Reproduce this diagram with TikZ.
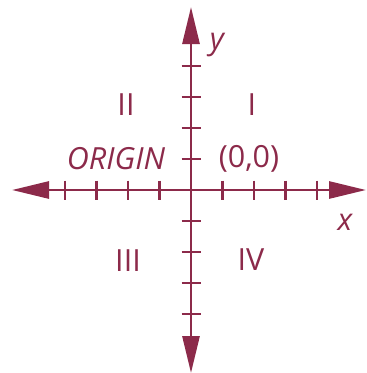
\documentclass[tikz,border=0pt]{standalone}
\usepackage{fontspec}
\setmainfont{Open Sans}
\usetikzlibrary{arrows.meta}
\definecolor{axcol}{RGB}{140,42,74}
\begin{document}
\begin{tikzpicture}[x=1pt,y=-1pt,
  axis/.style={draw=axcol,line width=2.8pt,{Triangle[length=37pt,width=17pt]}-{Triangle[length=37pt,width=17pt]}},
  tick/.style={draw=axcol,line width=2.6pt},
  lbl/.style={text=axcol,font=\fontsize{30.5}{35}\selectfont,inner sep=0pt,anchor=base},
  ilbl/.style={lbl,font=\fontsize{30.5}{35}\selectfont\itshape}]
\useasboundingbox (0,0) rectangle (367,373);
\coordinate (O) at (191,190);
\coordinate (L) at (12,190);
\coordinate (R) at (366,190);
\coordinate (T) at (191,7);
\coordinate (B) at (191,373);
\draw[axis] (L) -- (R);
\draw[axis] (B) -- (T);
\foreach \i in {1,2,3,4} {
  \draw[tick] ([shift={(-31.5*\i,-9.5)}]O) -- ([shift={(-31.5*\i,9.5)}]O);
  \draw[tick] ([shift={(31.5*\i,-9.5)}]O) -- ([shift={(31.5*\i,9.5)}]O);
  \draw[tick] ([shift={(-9.5,-31*\i)}]O) -- ([shift={(9.5,-31*\i)}]O);
  \draw[tick] ([shift={(-9.5,31*\i)}]O) -- ([shift={(9.5,31*\i)}]O);
}
\node[ilbl] (ylbl) at (217,49) {y};
\node[ilbl] (xlbl) at (345,230) {x};
\node[lbl] (q2) at (126,115) {II};
\node[lbl] (q1) at (252,115) {I};
\node[ilbl] (orig) at (116,169) {ORIGIN};
\node[lbl] (zero) at (249,167) {(0,0)};
\node[lbl] (q3) at (128,271) {III};
\node[lbl] (q4) at (251,270) {IV};
\end{tikzpicture}
\end{document}
